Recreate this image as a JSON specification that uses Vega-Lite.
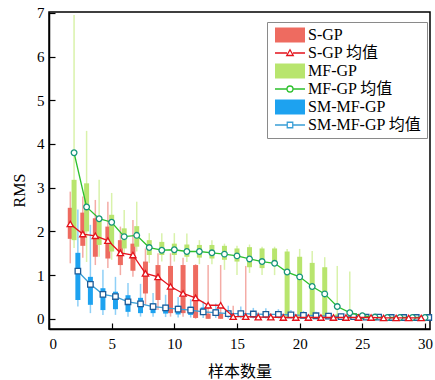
{
  "$schema": "https://vega.github.io/schema/vega-lite/v6.json",
  "width": 381,
  "height": 317,
  "autosize": "none",
  "padding": {"left": 49, "top": 12, "right": 5, "bottom": 51},
  "background": "white",
  "datasets": {
    "d": [
      {"n":2,"s":"S-GP","lo":1.27,"q1":1.83,"q3":2.54,"hi":2.91,"m":2.17},
      {"n":3,"s":"S-GP","lo":1.40,"q1":1.67,"q3":2.43,"hi":2.80,"m":1.94},
      {"n":4,"s":"S-GP","lo":1.23,"q1":1.42,"q3":2.30,"hi":2.72,"m":1.90},
      {"n":5,"s":"S-GP","lo":1.16,"q1":1.38,"q3":2.11,"hi":2.68,"m":1.79},
      {"n":6,"s":"S-GP","lo":1.00,"q1":1.23,"q3":1.80,"hi":2.11,"m":1.51},
      {"n":7,"s":"S-GP","lo":0.96,"q1":1.10,"q3":1.72,"hi":2.26,"m":1.46},
      {"n":8,"s":"S-GP","lo":0.32,"q1":0.58,"q3":1.31,"hi":1.61,"m":1.04},
      {"n":9,"s":"S-GP","lo":0.20,"q1":0.43,"q3":1.23,"hi":1.50,"m":0.96},
      {"n":10,"s":"S-GP","lo":0.05,"q1":0.13,"q3":1.21,"hi":1.50,"m":0.74},
      {"n":11,"s":"S-GP","lo":0.05,"q1":0.13,"q3":1.23,"hi":1.40,"m":0.58},
      {"n":12,"s":"S-GP","lo":0.00,"q1":0.02,"q3":1.23,"hi":1.25,"m":0.48},
      {"n":13,"s":"S-GP","lo":0.00,"q1":0.00,"q3":0.12,"hi":1.23,"m":0.31},
      {"n":14,"s":"S-GP","lo":0.00,"q1":0.00,"q3":0.12,"hi":1.23,"m":0.31},
      {"n":15,"s":"S-GP","lo":0.00,"q1":0.00,"q3":0.05,"hi":0.30,"m":0.05},
      {"n":16,"s":"S-GP","lo":0.00,"q1":0.00,"q3":0.05,"hi":1.21,"m":0.05},
      {"n":17,"s":"S-GP","lo":0.00,"q1":0.00,"q3":0.04,"hi":0.15,"m":0.04},
      {"n":18,"s":"S-GP","lo":0.00,"q1":0.00,"q3":0.04,"hi":0.12,"m":0.04},
      {"n":19,"s":"S-GP","lo":0.00,"q1":0.00,"q3":0.04,"hi":0.12,"m":0.03},
      {"n":20,"s":"S-GP","lo":0.00,"q1":0.00,"q3":0.03,"hi":0.10,"m":0.03},
      {"n":21,"s":"S-GP","lo":0.00,"q1":0.00,"q3":0.03,"hi":0.10,"m":0.03},
      {"n":22,"s":"S-GP","lo":0.00,"q1":0.00,"q3":0.03,"hi":0.09,"m":0.03},
      {"n":23,"s":"S-GP","lo":0.00,"q1":0.00,"q3":0.03,"hi":0.09,"m":0.03},
      {"n":24,"s":"S-GP","lo":0.00,"q1":0.00,"q3":0.03,"hi":0.08,"m":0.03},
      {"n":25,"s":"S-GP","lo":0.00,"q1":0.00,"q3":0.03,"hi":0.08,"m":0.03},
      {"n":26,"s":"S-GP","lo":0.00,"q1":0.00,"q3":0.03,"hi":0.07,"m":0.03},
      {"n":27,"s":"S-GP","lo":0.00,"q1":0.00,"q3":0.02,"hi":0.07,"m":0.02},
      {"n":28,"s":"S-GP","lo":0.00,"q1":0.00,"q3":0.02,"hi":0.06,"m":0.02},
      {"n":29,"s":"S-GP","lo":0.00,"q1":0.00,"q3":0.02,"hi":0.06,"m":0.02},
      {"n":30,"s":"S-GP","lo":0.00,"q1":0.00,"q3":0.02,"hi":0.05,"m":0.02},
      {"n":2,"s":"MF-GP","lo":1.62,"q1":1.80,"q3":3.18,"hi":6.95,"m":3.80},
      {"n":3,"s":"MF-GP","lo":1.30,"q1":2.00,"q3":3.10,"hi":4.30,"m":2.56},
      {"n":4,"s":"MF-GP","lo":1.42,"q1":1.69,"q3":2.34,"hi":3.18,"m":2.29},
      {"n":5,"s":"MF-GP","lo":1.35,"q1":1.54,"q3":2.38,"hi":2.88,"m":2.21},
      {"n":6,"s":"MF-GP","lo":1.50,"q1":1.61,"q3":2.07,"hi":2.49,"m":1.88},
      {"n":7,"s":"MF-GP","lo":1.54,"q1":1.65,"q3":2.12,"hi":2.68,"m":1.91},
      {"n":8,"s":"MF-GP","lo":1.28,"q1":1.46,"q3":1.80,"hi":1.96,"m":1.63},
      {"n":9,"s":"MF-GP","lo":1.31,"q1":1.46,"q3":1.76,"hi":1.96,"m":1.57},
      {"n":10,"s":"MF-GP","lo":1.31,"q1":1.46,"q3":1.72,"hi":1.96,"m":1.58},
      {"n":11,"s":"MF-GP","lo":1.30,"q1":1.42,"q3":1.70,"hi":1.95,"m":1.54},
      {"n":12,"s":"MF-GP","lo":1.25,"q1":1.40,"q3":1.69,"hi":1.80,"m":1.54},
      {"n":13,"s":"MF-GP","lo":1.25,"q1":1.38,"q3":1.69,"hi":1.80,"m":1.51},
      {"n":14,"s":"MF-GP","lo":1.12,"q1":1.35,"q3":1.67,"hi":1.72,"m":1.48},
      {"n":15,"s":"MF-GP","lo":1.00,"q1":1.31,"q3":1.61,"hi":1.67,"m":1.44},
      {"n":16,"s":"MF-GP","lo":1.05,"q1":1.18,"q3":1.64,"hi":1.70,"m":1.37},
      {"n":17,"s":"MF-GP","lo":1.00,"q1":1.16,"q3":1.61,"hi":1.65,"m":1.31},
      {"n":18,"s":"MF-GP","lo":1.00,"q1":1.25,"q3":1.61,"hi":1.65,"m":1.27},
      {"n":19,"s":"MF-GP","lo":0.00,"q1":0.05,"q3":1.54,"hi":1.60,"m":1.07},
      {"n":20,"s":"MF-GP","lo":0.00,"q1":0.05,"q3":1.42,"hi":1.60,"m":0.96},
      {"n":21,"s":"MF-GP","lo":0.00,"q1":0.05,"q3":1.28,"hi":1.55,"m":0.74},
      {"n":22,"s":"MF-GP","lo":0.00,"q1":0.05,"q3":1.18,"hi":1.41,"m":0.57},
      {"n":23,"s":"MF-GP","lo":0.00,"q1":0.01,"q3":0.10,"hi":1.21,"m":0.28},
      {"n":24,"s":"MF-GP","lo":0.00,"q1":0.01,"q3":0.08,"hi":1.08,"m":0.14},
      {"n":25,"s":"MF-GP","lo":0.00,"q1":0.01,"q3":0.05,"hi":0.15,"m":0.07},
      {"n":26,"s":"MF-GP","lo":0.00,"q1":0.01,"q3":0.04,"hi":0.08,"m":0.04},
      {"n":27,"s":"MF-GP","lo":0.00,"q1":0.01,"q3":0.04,"hi":0.08,"m":0.03},
      {"n":28,"s":"MF-GP","lo":0.00,"q1":0.01,"q3":0.04,"hi":0.08,"m":0.03},
      {"n":29,"s":"MF-GP","lo":0.00,"q1":0.01,"q3":0.04,"hi":0.07,"m":0.03},
      {"n":30,"s":"MF-GP","lo":0.00,"q1":0.01,"q3":0.04,"hi":0.07,"m":0.03},
      {"n":2,"s":"SM-MF-GP","lo":0.28,"q1":0.43,"q3":1.51,"hi":2.50,"m":1.09},
      {"n":3,"s":"SM-MF-GP","lo":0.13,"q1":0.32,"q3":0.96,"hi":2.15,"m":0.79},
      {"n":4,"s":"SM-MF-GP","lo":0.09,"q1":0.20,"q3":0.70,"hi":1.12,"m":0.56},
      {"n":5,"s":"SM-MF-GP","lo":0.09,"q1":0.22,"q3":0.62,"hi":0.96,"m":0.51},
      {"n":6,"s":"SM-MF-GP","lo":0.05,"q1":0.16,"q3":0.54,"hi":0.82,"m":0.39},
      {"n":7,"s":"SM-MF-GP","lo":0.05,"q1":0.13,"q3":0.48,"hi":0.80,"m":0.34},
      {"n":8,"s":"SM-MF-GP","lo":0.05,"q1":0.13,"q3":0.36,"hi":0.59,"m":0.28},
      {"n":9,"s":"SM-MF-GP","lo":0.04,"q1":0.12,"q3":0.32,"hi":0.55,"m":0.25},
      {"n":10,"s":"SM-MF-GP","lo":0.03,"q1":0.10,"q3":0.30,"hi":0.50,"m":0.22},
      {"n":11,"s":"SM-MF-GP","lo":0.03,"q1":0.09,"q3":0.28,"hi":0.45,"m":0.20},
      {"n":12,"s":"SM-MF-GP","lo":0.02,"q1":0.09,"q3":0.26,"hi":0.40,"m":0.16},
      {"n":13,"s":"SM-MF-GP","lo":0.02,"q1":0.07,"q3":0.22,"hi":0.35,"m":0.14},
      {"n":14,"s":"SM-MF-GP","lo":0.01,"q1":0.05,"q3":0.18,"hi":0.30,"m":0.12},
      {"n":15,"s":"SM-MF-GP","lo":0.01,"q1":0.05,"q3":0.16,"hi":0.28,"m":0.12},
      {"n":16,"s":"SM-MF-GP","lo":0.01,"q1":0.04,"q3":0.15,"hi":0.25,"m":0.11},
      {"n":17,"s":"SM-MF-GP","lo":0.01,"q1":0.04,"q3":0.14,"hi":0.24,"m":0.10},
      {"n":18,"s":"SM-MF-GP","lo":0.01,"q1":0.03,"q3":0.13,"hi":0.22,"m":0.10},
      {"n":19,"s":"SM-MF-GP","lo":0.01,"q1":0.03,"q3":0.12,"hi":0.20,"m":0.09},
      {"n":20,"s":"SM-MF-GP","lo":0.01,"q1":0.03,"q3":0.10,"hi":0.18,"m":0.08},
      {"n":21,"s":"SM-MF-GP","lo":0.01,"q1":0.02,"q3":0.09,"hi":0.16,"m":0.07},
      {"n":22,"s":"SM-MF-GP","lo":0.00,"q1":0.02,"q3":0.08,"hi":0.14,"m":0.06},
      {"n":23,"s":"SM-MF-GP","lo":0.00,"q1":0.02,"q3":0.07,"hi":0.12,"m":0.05},
      {"n":24,"s":"SM-MF-GP","lo":0.00,"q1":0.02,"q3":0.06,"hi":0.10,"m":0.05},
      {"n":25,"s":"SM-MF-GP","lo":0.00,"q1":0.01,"q3":0.05,"hi":0.08,"m":0.04},
      {"n":26,"s":"SM-MF-GP","lo":0.00,"q1":0.01,"q3":0.05,"hi":0.08,"m":0.04},
      {"n":27,"s":"SM-MF-GP","lo":0.00,"q1":0.01,"q3":0.05,"hi":0.08,"m":0.03},
      {"n":28,"s":"SM-MF-GP","lo":0.00,"q1":0.01,"q3":0.04,"hi":0.07,"m":0.03},
      {"n":29,"s":"SM-MF-GP","lo":0.00,"q1":0.01,"q3":0.04,"hi":0.07,"m":0.03},
      {"n":30,"s":"SM-MF-GP","lo":0.00,"q1":0.01,"q3":0.04,"hi":0.07,"m":0.03}
    ]
  },
  "data": {"name": "d"},
  "encoding": {
    "x": {"field": "n", "type": "quantitative",
      "scale": {"domain": [0, 30.4], "nice": false, "zero": false, "padding": 0},
      "axis": {"title": "样本数量", "values": [0, 5, 10, 15, 20, 25, 30], "titleFont": "Noto Sans CJK SC", "titleFontSize": 16, "titlePadding": 12, "labelPadding": 13}},
    "y": {"type": "quantitative",
      "scale": {"domain": [-0.233, 7.02], "nice": false, "zero": false, "padding": 0},
      "axis": {"title": "RMS", "values": [0, 1, 2, 3, 4, 5, 6, 7], "titleFont": "Liberation Serif", "titleFontSize": 16, "titlePadding": 9, "labelPadding": 11, "titleY": 178}}
  },
  "layer": [
    {"transform": [{"filter": "datum.s === 'S-GP'"}], "layer": [
      {"mark": {"type": "rule", "xOffset": -3.8, "color": "#f4aca6", "strokeWidth": 1.5},
       "encoding": {"y": {"field": "lo", "type": "quantitative"}, "y2": {"field": "hi"}}},
      {"mark": {"type": "bar", "xOffset": -3.8, "width": 5},
       "encoding": {"y": {"field": "q1", "type": "quantitative"}, "y2": {"field": "q3"},
         "fill": {"field": "s", "type": "nominal",
           "scale": {"domain": ["S-GP", "S-GP 均值", "MF-GP", "MF-GP 均值", "SM-MF-GP", "SM-MF-GP 均值"],
                     "range": ["#ee6b60", "white", "#b8e56e", "white", "#1da2f0", "white"]},
           "legend": {"title": null, "orient": "none", "legendX": 218, "legendY": 10,
             "symbolSize": 100, "symbolOffset": 10, "labelOffset": 10, "rowPadding": 2,
             "labelFont": "Liberation Serif, Noto Sans CJK SC", "labelFontSize": 16, "labelColor": "black",
             "strokeColor": "#8a8a8a", "fillColor": "white", "padding": 5, "symbolOpacity": 1,
             "encode": {"symbols": {"update": {
               "shape": {"signal": "['M-3,-1.5H3V1.5H-3Z','M-3,0H-0.6M0.6,0H3M0,-0.65L0.65,0.5H-0.65Z','M-3,-1.5H3V1.5H-3Z','M-3,0H-0.6M0.6,0H3M0.6,0A0.6,0.6,0,1,1,-0.6,0A0.6,0.6,0,1,1,0.6,0Z','M-3,-1.5H3V1.5H-3Z','M-3,0H-0.55M0.55,0H3M-0.55,-0.55H0.55V0.55H-0.55Z'][datum.index]"},
               "stroke": {"signal": "['#ee6b60','#e3121b','#b8e56e','#2cc02c','#1da2f0','#3a9fd6'][datum.index]"},
               "strokeWidth": {"signal": "datum.index % 2 ? 1.3 : 0"}
             }}}}}}}
    ]},
    {"transform": [{"filter": "datum.s === 'MF-GP'"}], "layer": [
      {"mark": {"type": "rule", "xOffset": 0, "color": "#d9f2ab", "strokeWidth": 1.5},
       "encoding": {"y": {"field": "lo", "type": "quantitative"}, "y2": {"field": "hi"}}},
      {"mark": {"type": "bar", "width": 5},
       "encoding": {"y": {"field": "q1", "type": "quantitative"}, "y2": {"field": "q3"},
         "fill": {"field": "s", "type": "nominal"}}}
    ]},
    {"transform": [{"filter": "datum.s === 'SM-MF-GP'"}], "layer": [
      {"mark": {"type": "rule", "xOffset": 3.8, "color": "#8fd0f7", "strokeWidth": 1.5},
       "encoding": {"y": {"field": "lo", "type": "quantitative"}, "y2": {"field": "hi"}}},
      {"mark": {"type": "bar", "xOffset": 3.8, "width": 5},
       "encoding": {"y": {"field": "q1", "type": "quantitative"}, "y2": {"field": "q3"},
         "fill": {"field": "s", "type": "nominal"}}}
    ]},
    {"transform": [{"filter": "datum.s === 'SM-MF-GP'"}], "layer": [
      {"mark": {"type": "line", "xOffset": 3.8, "color": "#3a9fd6", "strokeWidth": 1.3},
       "encoding": {"y": {"field": "m", "type": "quantitative"}}},
      {"mark": {"type": "point", "xOffset": 3.8, "shape": "square", "size": 30, "filled": true, "fill": "white", "stroke": "#1d5c99", "strokeWidth": 1.3, "opacity": 1},
       "encoding": {"y": {"field": "m", "type": "quantitative"}}}
    ]},
    {"transform": [{"filter": "datum.s === 'MF-GP'"}], "layer": [
      {"mark": {"type": "line", "color": "#2cc02c", "strokeWidth": 1.3},
       "encoding": {"y": {"field": "m", "type": "quantitative"}}},
      {"mark": {"type": "point", "shape": "circle", "size": 32, "filled": true, "fill": "white", "stroke": "#17957a", "strokeWidth": 1.3, "opacity": 1},
       "encoding": {"y": {"field": "m", "type": "quantitative"}}}
    ]},
    {"transform": [{"filter": "datum.s === 'S-GP'"}], "layer": [
      {"mark": {"type": "line", "xOffset": -3.8, "color": "#e3121b", "strokeWidth": 1.3},
       "encoding": {"y": {"field": "m", "type": "quantitative"}}},
      {"mark": {"type": "point", "xOffset": -3.8, "shape": "triangle-up", "size": 40, "filled": true, "fill": "white", "stroke": "#e3121b", "strokeWidth": 1.3, "opacity": 1},
       "encoding": {"y": {"field": "m", "type": "quantitative"}}}
    ]}
  ],
  "config": {
    "view": {"stroke": "black", "strokeWidth": 1.5},
    "axis": {"grid": false, "domainColor": "black", "domainWidth": 1.5, "tickColor": "black", "tickWidth": 1.2, "tickSize": -6,
             "labelFont": "Liberation Serif", "labelFontSize": 15, "labelColor": "black",
             "titleColor": "black", "titleFontWeight": "normal"}
  }
}
